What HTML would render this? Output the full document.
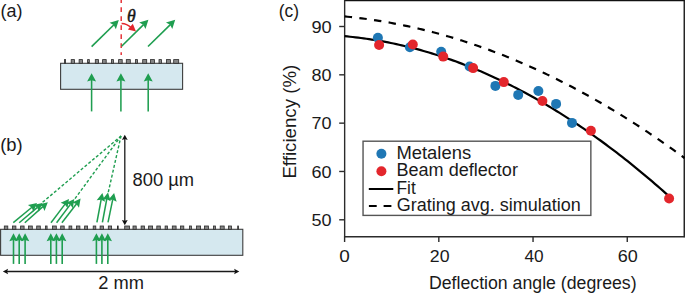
<!DOCTYPE html>
<html><head><meta charset="utf-8"><style>
html,body{margin:0;padding:0;background:#fff;}
svg{display:block;}
text{font-family:"Liberation Sans", sans-serif;fill:#1a1a1a;}
</style></head><body>
<svg width="685" height="293" viewBox="0 0 685 293">
<rect x="60.6" y="63.3" width="122" height="26" fill="#d5e8ef" stroke="#3c3c3c" stroke-width="1.1"/>
<rect x="64.40" y="59.6" width="1.20" height="3.7" fill="#858585" stroke="#2a2a2a" stroke-width="0.8"/>
<rect x="71.20" y="59.6" width="3.30" height="3.7" fill="#858585" stroke="#2a2a2a" stroke-width="0.8"/>
<rect x="79.10" y="59.6" width="3.30" height="3.7" fill="#858585" stroke="#2a2a2a" stroke-width="0.8"/>
<rect x="87.60" y="59.6" width="1.70" height="3.7" fill="#858585" stroke="#2a2a2a" stroke-width="0.8"/>
<rect x="95.30" y="59.6" width="3.20" height="3.7" fill="#858585" stroke="#2a2a2a" stroke-width="0.8"/>
<rect x="102.60" y="59.6" width="3.60" height="3.7" fill="#858585" stroke="#2a2a2a" stroke-width="0.8"/>
<rect x="111.40" y="59.6" width="2.00" height="3.7" fill="#858585" stroke="#2a2a2a" stroke-width="0.8"/>
<rect x="118.60" y="59.6" width="3.60" height="3.7" fill="#858585" stroke="#2a2a2a" stroke-width="0.8"/>
<rect x="126.30" y="59.6" width="4.00" height="3.7" fill="#858585" stroke="#2a2a2a" stroke-width="0.8"/>
<rect x="135.50" y="59.6" width="2.00" height="3.7" fill="#858585" stroke="#2a2a2a" stroke-width="0.8"/>
<rect x="142.70" y="59.6" width="4.00" height="3.7" fill="#858585" stroke="#2a2a2a" stroke-width="0.8"/>
<rect x="150.50" y="59.6" width="4.00" height="3.7" fill="#858585" stroke="#2a2a2a" stroke-width="0.8"/>
<rect x="159.00" y="59.6" width="2.50" height="3.7" fill="#858585" stroke="#2a2a2a" stroke-width="0.8"/>
<rect x="166.40" y="59.6" width="4.00" height="3.7" fill="#858585" stroke="#2a2a2a" stroke-width="0.8"/>
<rect x="173.70" y="59.6" width="5.00" height="3.7" fill="#858585" stroke="#2a2a2a" stroke-width="0.8"/>
<line x1="91.60" y1="111.40" x2="91.60" y2="79.84" stroke="#1f9e50" stroke-width="1.55"/><polygon points="91.60,73.20 96.10,81.50 91.60,80.17 87.10,81.50" fill="#1f9e50"/>
<line x1="120.90" y1="111.40" x2="120.90" y2="79.84" stroke="#1f9e50" stroke-width="1.55"/><polygon points="120.90,73.20 125.40,81.50 120.90,80.17 116.40,81.50" fill="#1f9e50"/>
<line x1="148.20" y1="111.40" x2="148.20" y2="79.84" stroke="#1f9e50" stroke-width="1.55"/><polygon points="148.20,73.20 152.70,81.50 148.20,80.17 143.70,81.50" fill="#1f9e50"/>
<line x1="121.2" y1="0" x2="121.2" y2="55" stroke="#e3262c" stroke-width="1.4" stroke-dasharray="4.7 4.3" stroke-dashoffset="1.8"/>
<line x1="91.60" y1="46.60" x2="113.94" y2="24.75" stroke="#1f9e50" stroke-width="1.6"/><polygon points="118.80,20.00 115.87,29.16 113.70,24.99 109.58,22.73" fill="#1f9e50"/>
<line x1="121.60" y1="46.20" x2="143.56" y2="24.57" stroke="#1f9e50" stroke-width="1.6"/><polygon points="148.40,19.80 145.50,28.97 143.31,24.81 139.19,22.56" fill="#1f9e50"/>
<line x1="148.00" y1="46.50" x2="170.35" y2="24.56" stroke="#1f9e50" stroke-width="1.6"/><polygon points="175.20,19.80 172.29,28.97 170.10,24.80 165.98,22.54" fill="#1f9e50"/>
<path d="M121.6,23.6 Q127,23.8 131,27.5" fill="none" stroke="#e3262c" stroke-width="1.5"/>
<polygon points="136.00,31.50 127.84,29.46 132.82,23.72" fill="#e3262c"/>
<text x="126.9" y="21.5" font-size="17.8" font-style="italic" font-family="Liberation Serif" fill="#111" stroke="#111" stroke-width="0.45" style="font-family:'Liberation Serif',serif">&#952;</text>
<rect x="0.6" y="229.3" width="242.2" height="26" fill="#d5e8ef" stroke="#3c3c3c" stroke-width="1.1"/>
<rect x="4.30" y="226" width="3.50" height="3.3" fill="#858585" stroke="#2a2a2a" stroke-width="0.8"/>
<rect x="12.50" y="226" width="3.40" height="3.3" fill="#858585" stroke="#2a2a2a" stroke-width="0.8"/>
<rect x="20.60" y="226" width="3.50" height="3.3" fill="#858585" stroke="#2a2a2a" stroke-width="0.8"/>
<rect x="28.50" y="226" width="3.80" height="3.3" fill="#858585" stroke="#2a2a2a" stroke-width="0.8"/>
<rect x="36.70" y="226" width="3.60" height="3.3" fill="#858585" stroke="#2a2a2a" stroke-width="0.8"/>
<rect x="45.40" y="226" width="1.70" height="3.3" fill="#858585" stroke="#2a2a2a" stroke-width="0.8"/>
<rect x="52.50" y="226" width="3.80" height="3.3" fill="#858585" stroke="#2a2a2a" stroke-width="0.8"/>
<rect x="60.70" y="226" width="3.50" height="3.3" fill="#858585" stroke="#2a2a2a" stroke-width="0.8"/>
<rect x="69.00" y="226" width="2.80" height="3.3" fill="#858585" stroke="#2a2a2a" stroke-width="0.8"/>
<rect x="76.40" y="226" width="3.50" height="3.3" fill="#858585" stroke="#2a2a2a" stroke-width="0.8"/>
<rect x="84.60" y="226" width="3.00" height="3.3" fill="#858585" stroke="#2a2a2a" stroke-width="0.8"/>
<rect x="93.20" y="226" width="2.60" height="3.3" fill="#858585" stroke="#2a2a2a" stroke-width="0.8"/>
<rect x="100.10" y="226" width="3.30" height="3.3" fill="#858585" stroke="#2a2a2a" stroke-width="0.8"/>
<rect x="108.30" y="226" width="3.30" height="3.3" fill="#858585" stroke="#2a2a2a" stroke-width="0.8"/>
<rect x="117.50" y="226" width="0.70" height="3.3" fill="#858585" stroke="#2a2a2a" stroke-width="0.8"/>
<rect x="124.70" y="226" width="4.80" height="3.3" fill="#858585" stroke="#2a2a2a" stroke-width="0.8"/>
<rect x="133.00" y="226" width="3.20" height="3.3" fill="#858585" stroke="#2a2a2a" stroke-width="0.8"/>
<rect x="141.10" y="226" width="3.30" height="3.3" fill="#858585" stroke="#2a2a2a" stroke-width="0.8"/>
<rect x="148.60" y="226" width="4.00" height="3.3" fill="#858585" stroke="#2a2a2a" stroke-width="0.8"/>
<rect x="156.80" y="226" width="3.50" height="3.3" fill="#858585" stroke="#2a2a2a" stroke-width="0.8"/>
<rect x="165.10" y="226" width="2.30" height="3.3" fill="#858585" stroke="#2a2a2a" stroke-width="0.8"/>
<rect x="172.30" y="226" width="3.80" height="3.3" fill="#858585" stroke="#2a2a2a" stroke-width="0.8"/>
<rect x="180.50" y="226" width="3.30" height="3.3" fill="#858585" stroke="#2a2a2a" stroke-width="0.8"/>
<rect x="189.50" y="226" width="1.90" height="3.3" fill="#858585" stroke="#2a2a2a" stroke-width="0.8"/>
<rect x="196.50" y="226" width="4.10" height="3.3" fill="#858585" stroke="#2a2a2a" stroke-width="0.8"/>
<rect x="204.40" y="226" width="4.00" height="3.3" fill="#858585" stroke="#2a2a2a" stroke-width="0.8"/>
<rect x="213.40" y="226" width="2.00" height="3.3" fill="#858585" stroke="#2a2a2a" stroke-width="0.8"/>
<rect x="220.20" y="226" width="4.00" height="3.3" fill="#858585" stroke="#2a2a2a" stroke-width="0.8"/>
<rect x="228.50" y="226" width="3.00" height="3.3" fill="#858585" stroke="#2a2a2a" stroke-width="0.8"/>
<rect x="237.70" y="226" width="0.90" height="3.3" fill="#858585" stroke="#2a2a2a" stroke-width="0.8"/>
<line x1="13.50" y1="263.90" x2="13.50" y2="239.60" stroke="#1f9e50" stroke-width="1.6"/><polygon points="13.50,233.20 17.70,241.20 13.50,239.92 9.30,241.20" fill="#1f9e50"/>
<line x1="19.20" y1="263.90" x2="19.20" y2="239.60" stroke="#1f9e50" stroke-width="1.6"/><polygon points="19.20,233.20 23.40,241.20 19.20,239.92 15.00,241.20" fill="#1f9e50"/>
<line x1="25.10" y1="263.90" x2="25.10" y2="239.60" stroke="#1f9e50" stroke-width="1.6"/><polygon points="25.10,233.20 29.30,241.20 25.10,239.92 20.90,241.20" fill="#1f9e50"/>
<line x1="50.80" y1="263.90" x2="50.80" y2="239.60" stroke="#1f9e50" stroke-width="1.6"/><polygon points="50.80,233.20 55.00,241.20 50.80,239.92 46.60,241.20" fill="#1f9e50"/>
<line x1="56.40" y1="263.90" x2="56.40" y2="239.60" stroke="#1f9e50" stroke-width="1.6"/><polygon points="56.40,233.20 60.60,241.20 56.40,239.92 52.20,241.20" fill="#1f9e50"/>
<line x1="62.20" y1="263.90" x2="62.20" y2="239.60" stroke="#1f9e50" stroke-width="1.6"/><polygon points="62.20,233.20 66.40,241.20 62.20,239.92 58.00,241.20" fill="#1f9e50"/>
<line x1="96.40" y1="263.90" x2="96.40" y2="239.60" stroke="#1f9e50" stroke-width="1.6"/><polygon points="96.40,233.20 100.60,241.20 96.40,239.92 92.20,241.20" fill="#1f9e50"/>
<line x1="101.90" y1="263.90" x2="101.90" y2="239.60" stroke="#1f9e50" stroke-width="1.6"/><polygon points="101.90,233.20 106.10,241.20 101.90,239.92 97.70,241.20" fill="#1f9e50"/>
<line x1="107.80" y1="263.90" x2="107.80" y2="239.60" stroke="#1f9e50" stroke-width="1.6"/><polygon points="107.80,233.20 112.00,241.20 107.80,239.92 103.60,241.20" fill="#1f9e50"/>
<line x1="13.30" y1="222.70" x2="31.94" y2="207.28" stroke="#1f9e50" stroke-width="1.5"/><polygon points="37.00,203.10 33.42,211.64 31.69,207.49 27.94,205.01" fill="#1f9e50"/>
<line x1="19.20" y1="222.70" x2="37.39" y2="207.33" stroke="#1f9e50" stroke-width="1.5"/><polygon points="42.40,203.10 38.91,211.68 37.14,207.55 33.36,205.11" fill="#1f9e50"/>
<line x1="24.80" y1="222.70" x2="42.89" y2="206.65" stroke="#1f9e50" stroke-width="1.5"/><polygon points="47.80,202.30 44.52,210.96 42.65,206.87 38.81,204.52" fill="#1f9e50"/>
<line x1="51.00" y1="222.80" x2="65.05" y2="204.14" stroke="#1f9e50" stroke-width="1.5"/><polygon points="69.00,198.90 67.50,208.04 64.86,204.40 60.63,202.86" fill="#1f9e50"/>
<line x1="56.60" y1="222.80" x2="70.37" y2="204.36" stroke="#1f9e50" stroke-width="1.5"/><polygon points="74.30,199.10 72.84,208.24 70.18,204.62 65.95,203.10" fill="#1f9e50"/>
<line x1="61.90" y1="222.80" x2="76.59" y2="203.79" stroke="#1f9e50" stroke-width="1.5"/><polygon points="80.60,198.60 78.99,207.72 76.39,204.05 72.18,202.46" fill="#1f9e50"/>
<line x1="96.90" y1="222.40" x2="101.20" y2="199.35" stroke="#1f9e50" stroke-width="1.5"/><polygon points="102.40,192.90 105.12,201.75 101.14,199.67 96.67,200.17" fill="#1f9e50"/>
<line x1="102.40" y1="222.40" x2="106.80" y2="198.85" stroke="#1f9e50" stroke-width="1.5"/><polygon points="108.00,192.40 110.72,201.25 106.74,199.17 102.27,199.67" fill="#1f9e50"/>
<line x1="108.00" y1="222.40" x2="112.77" y2="199.32" stroke="#1f9e50" stroke-width="1.5"/><polygon points="114.10,192.90 116.65,201.80 112.71,199.65 108.23,200.06" fill="#1f9e50"/>
<line x1="42.6" y1="202.3" x2="121.0" y2="136.0" stroke="#1f9e50" stroke-width="1.4" stroke-dasharray="3 2"/>
<line x1="75.0" y1="198.6" x2="121.0" y2="136.0" stroke="#1f9e50" stroke-width="1.4" stroke-dasharray="3 2"/>
<line x1="108.3" y1="192.2" x2="121.0" y2="136.0" stroke="#1f9e50" stroke-width="1.4" stroke-dasharray="3 2"/>
<line x1="124.8" y1="138" x2="124.8" y2="221" stroke="#1a1a1a" stroke-width="1.3"/>
<polygon points="124.80,134.70 127.70,139.90 124.80,139.10 121.90,139.90" fill="#111"/>
<polygon points="124.80,225.20 121.90,220.00 124.80,220.80 127.70,220.00" fill="#111"/>
<line x1="6" y1="271.5" x2="236" y2="271.5" stroke="#1a1a1a" stroke-width="1.4"/>
<polygon points="2.90,271.50 8.10,268.70 7.10,271.50 8.10,274.30" fill="#111"/>
<polygon points="239.30,271.50 234.10,274.30 235.10,271.50 234.10,268.70" fill="#111"/>
<line x1="344.6" y1="0.6" x2="684.9" y2="0.6" stroke="#111" stroke-width="1.2"/>
<line x1="684.25" y1="0" x2="684.25" y2="237.2" stroke="#1a1a1a" stroke-width="1.4"/>
<line x1="344.6" y1="236.7" x2="684.9" y2="236.7" stroke="#2b2b2b" stroke-width="1.4"/>
<line x1="344.65" y1="0" x2="344.65" y2="237.2" stroke="#2b2b2b" stroke-width="1.4"/>
<line x1="344.60" y1="236.5" x2="344.60" y2="242" stroke="#2b2b2b" stroke-width="1.4"/>
<line x1="438.82" y1="236.5" x2="438.82" y2="242" stroke="#2b2b2b" stroke-width="1.4"/>
<line x1="533.04" y1="236.5" x2="533.04" y2="242" stroke="#2b2b2b" stroke-width="1.4"/>
<line x1="627.26" y1="236.5" x2="627.26" y2="242" stroke="#2b2b2b" stroke-width="1.4"/>
<line x1="339.2" y1="219.80" x2="344.6" y2="219.80" stroke="#2b2b2b" stroke-width="1.4"/>
<line x1="339.2" y1="171.47" x2="344.6" y2="171.47" stroke="#2b2b2b" stroke-width="1.4"/>
<line x1="339.2" y1="123.15" x2="344.6" y2="123.15" stroke="#2b2b2b" stroke-width="1.4"/>
<line x1="339.2" y1="74.82" x2="344.6" y2="74.82" stroke="#2b2b2b" stroke-width="1.4"/>
<line x1="339.2" y1="26.50" x2="344.6" y2="26.50" stroke="#2b2b2b" stroke-width="1.4"/>
<polyline points="344.70,16.46 347.56,16.74 350.41,17.03 353.27,17.34 356.12,17.67 358.98,18.01 361.83,18.36 364.69,18.74 367.54,19.12 370.40,19.53 373.25,19.94 376.11,20.38 378.97,20.82 381.82,21.29 384.68,21.77 387.53,22.26 390.39,22.77 393.24,23.30 396.10,23.84 398.95,24.40 401.81,24.97 404.66,25.56 407.52,26.16 410.38,26.78 413.23,27.41 416.09,28.06 418.94,28.73 421.80,29.41 424.65,30.10 427.51,30.81 430.36,31.54 433.22,32.28 436.07,33.04 438.93,33.81 441.79,34.60 444.64,35.41 447.50,36.22 450.35,37.06 453.21,37.91 456.06,38.77 458.92,39.66 461.77,40.55 464.63,41.46 467.48,42.39 470.34,43.33 473.20,44.29 476.05,45.27 478.91,46.25 481.76,47.26 484.62,48.28 487.47,49.31 490.33,50.37 493.18,51.43 496.04,52.51 498.89,53.61 501.75,54.72 504.61,55.85 507.46,56.99 510.32,58.15 513.17,59.33 516.03,60.52 518.88,61.72 521.74,62.94 524.59,64.18 527.45,65.43 530.31,66.70 533.16,67.98 536.02,69.28 538.87,70.59 541.73,71.92 544.58,73.26 547.44,74.62 550.29,76.00 553.15,77.39 556.00,78.79 558.86,80.21 561.72,81.65 564.57,83.10 567.43,84.57 570.28,86.05 573.14,87.55 575.99,89.07 578.85,90.60 581.70,92.14 584.56,93.70 587.41,95.28 590.27,96.87 593.13,98.47 595.98,100.10 598.84,101.73 601.69,103.39 604.55,105.05 607.40,106.74 610.26,108.44 613.11,110.15 615.97,111.88 618.82,113.63 621.68,115.39 624.54,117.16 627.39,118.96 630.25,120.76 633.10,122.59 635.96,124.42 638.81,126.28 641.67,128.15 644.52,130.03 647.38,131.93 650.23,133.85 653.09,135.78 655.95,137.72 658.80,139.68 661.66,141.66 664.51,143.65 667.37,145.66 670.22,147.68 673.08,149.72 675.93,151.78 678.79,153.85 681.64,155.93 684.50,158.03" fill="none" stroke="#000" stroke-width="2.2" stroke-dasharray="7.4 7.37"/>
<polyline points="344.60,36.22 347.32,36.47 350.04,36.74 352.77,37.02 355.49,37.33 358.21,37.65 360.93,37.99 363.65,38.35 366.37,38.73 369.10,39.13 371.82,39.54 374.54,39.97 377.26,40.43 379.98,40.90 382.71,41.39 385.43,41.89 388.15,42.42 390.87,42.97 393.59,43.53 396.32,44.11 399.04,44.71 401.76,45.33 404.48,45.97 407.20,46.62 409.92,47.30 412.65,47.99 415.37,48.70 418.09,49.43 420.81,50.18 423.53,50.95 426.26,51.73 428.98,52.54 431.70,53.36 434.42,54.20 437.14,55.06 439.86,55.94 442.59,56.83 445.31,57.75 448.03,58.68 450.75,59.63 453.47,60.60 456.20,61.59 458.92,62.60 461.64,63.63 464.36,64.67 467.08,65.73 469.81,66.82 472.53,67.92 475.25,69.03 477.97,70.17 480.69,71.33 483.41,72.50 486.14,73.69 488.86,74.91 491.58,76.14 494.30,77.38 497.02,78.65 499.75,79.94 502.47,81.24 505.19,82.56 507.91,83.90 510.63,85.26 513.35,86.64 516.08,88.04 518.80,89.45 521.52,90.88 524.24,92.34 526.96,93.81 529.69,95.29 532.41,96.80 535.13,98.33 537.85,99.87 540.57,101.44 543.29,103.02 546.02,104.62 548.74,106.24 551.46,107.87 554.18,109.53 556.90,111.20 559.63,112.89 562.35,114.61 565.07,116.33 567.79,118.08 570.51,119.85 573.24,121.63 575.96,123.44 578.68,125.26 581.40,127.10 584.12,128.96 586.84,130.84 589.57,132.73 592.29,134.65 595.01,136.58 597.73,138.53 600.45,140.50 603.18,142.49 605.90,144.50 608.62,146.53 611.34,148.57 614.06,150.63 616.78,152.71 619.51,154.81 622.23,156.93 624.95,159.07 627.67,161.22 630.39,163.40 633.12,165.59 635.84,167.80 638.56,170.03 641.28,172.28 644.00,174.54 646.73,176.83 649.45,179.13 652.17,181.45 654.89,183.80 657.61,186.15 660.33,188.53 663.06,190.93 665.78,193.34 668.50,195.78" fill="none" stroke="#000" stroke-width="2.2"/>
<circle cx="377.9" cy="37.8" r="5" fill="#1f77b4"/>
<circle cx="409.9" cy="47.3" r="5" fill="#1f77b4"/>
<circle cx="441.2" cy="51.8" r="5" fill="#1f77b4"/>
<circle cx="469.6" cy="66.5" r="5" fill="#1f77b4"/>
<circle cx="495.4" cy="85.9" r="5" fill="#1f77b4"/>
<circle cx="518.2" cy="94.9" r="5" fill="#1f77b4"/>
<circle cx="538.4" cy="91" r="5" fill="#1f77b4"/>
<circle cx="556.1" cy="103.9" r="5" fill="#1f77b4"/>
<circle cx="572" cy="122.9" r="5" fill="#1f77b4"/>
<circle cx="379.1" cy="45.0" r="5" fill="#e3262c"/>
<circle cx="412.8" cy="44.5" r="5" fill="#e3262c"/>
<circle cx="443.2" cy="56.6" r="5" fill="#e3262c"/>
<circle cx="473.1" cy="68.1" r="5" fill="#e3262c"/>
<circle cx="503.8" cy="82.1" r="5" fill="#e3262c"/>
<circle cx="542.4" cy="101" r="5" fill="#e3262c"/>
<circle cx="590.9" cy="130.8" r="5" fill="#e3262c"/>
<circle cx="669.1" cy="198.5" r="5" fill="#e3262c"/>
<rect x="363.05" y="141.2" width="227.8" height="74.2" fill="#fff" stroke="#555" stroke-width="1.4"/>
<circle cx="381.4" cy="153.7" r="5" fill="#1f77b4"/>
<circle cx="381.4" cy="171.2" r="5" fill="#e3262c"/>
<line x1="368.8" y1="189" x2="393.3" y2="189" stroke="#000" stroke-width="2"/>
<line x1="368.9" y1="206" x2="393.3" y2="206" stroke="#000" stroke-width="2.2" stroke-dasharray="7.8 6.9"/>
<text x="0.47" y="16.5" font-size="17.5" textLength="22.0" lengthAdjust="spacingAndGlyphs">(a)</text>
<text x="0.25" y="150.5" font-size="17.5" textLength="22.45" lengthAdjust="spacingAndGlyphs">(b)</text>
<text x="278.8" y="16.9" font-size="17.5" textLength="20.35" lengthAdjust="spacingAndGlyphs">(c)</text>
<text x="132.61" y="186.2" font-size="17.5" textLength="61.48" lengthAdjust="spacingAndGlyphs">800 &#181;m</text>
<text x="98.22" y="289.0" font-size="17.5" textLength="45.73" lengthAdjust="spacingAndGlyphs">2 mm</text>
<text x="311.41" y="32.5" font-size="17.2" textLength="20.26" lengthAdjust="spacingAndGlyphs">90</text>
<text x="311.41" y="80.7" font-size="17.2" textLength="20.04" lengthAdjust="spacingAndGlyphs">80</text>
<text x="311.41" y="129.2" font-size="17.2" textLength="20.04" lengthAdjust="spacingAndGlyphs">70</text>
<text x="311.41" y="177.6" font-size="17.2" textLength="20.04" lengthAdjust="spacingAndGlyphs">60</text>
<text x="311.41" y="226.0" font-size="17.2" textLength="20.04" lengthAdjust="spacingAndGlyphs">50</text>
<text x="339.37" y="262.2" font-size="17.2" textLength="10.55" lengthAdjust="spacingAndGlyphs">0</text>
<text x="429.83" y="262.2" font-size="17.2" textLength="19.72" lengthAdjust="spacingAndGlyphs">20</text>
<text x="524.45" y="262.2" font-size="17.2" textLength="19.18" lengthAdjust="spacingAndGlyphs">40</text>
<text x="617.81" y="262.2" font-size="17.2" textLength="20.04" lengthAdjust="spacingAndGlyphs">60</text>
<text x="428.98" y="288.8" font-size="17.5" textLength="207.64" lengthAdjust="spacingAndGlyphs">Deflection angle (degrees)</text>
<text x="396.42" y="159.4" font-size="17.5" textLength="74.72" lengthAdjust="spacingAndGlyphs">Metalens</text>
<text x="396.45" y="176.0" font-size="17.5" textLength="121.46" lengthAdjust="spacingAndGlyphs">Beam deflector</text>
<text x="396.51" y="193.8" font-size="17.5" textLength="19.29" lengthAdjust="spacingAndGlyphs">Fit</text>
<text x="396.73" y="211.3" font-size="17.5" textLength="183.98" lengthAdjust="spacingAndGlyphs">Grating avg. simulation</text>
<text transform="translate(296,178.60) rotate(-90)" font-size="17.5" textLength="113.94" lengthAdjust="spacingAndGlyphs">Efficiency (%)</text>
</svg>
</body></html>
